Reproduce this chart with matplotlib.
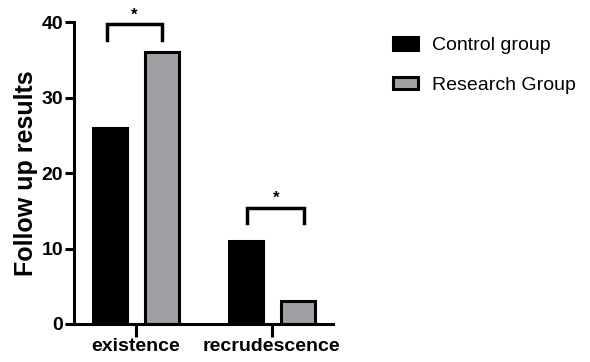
import numpy as np
import matplotlib.pyplot as plt

plt.rcParams['font.family'] = ['Liberation Sans', 'DejaVu Sans']

categories = ["existence", "recrudescence"]
control = [26, 11]
research = [36, 3]
series_names = ["Control group", "Research Group"]

fig = plt.figure(figsize=(5.9, 3.62), dpi=100)
ax = fig.add_axes([0.125, 0.105, 0.439, 0.834])

x = np.arange(len(categories))
w = 0.25
off = 0.19
ax.bar(x - off, control, w, color="black", edgecolor="black", linewidth=2.2,
       label=series_names[0])
ax.bar(x + off, research, w, color="#a0a0a4", edgecolor="black", linewidth=2.2,
       label=series_names[1])

# significance brackets
def bracket(x1, x2, ylow, yhigh):
    ax.plot([x1, x1, x2, x2], [ylow, yhigh, yhigh, ylow], color="black",
            lw=2.5, clip_on=False, solid_joinstyle="miter")
    ax.text((x1 + x2) / 2, yhigh + 0.2, "*", ha="center", va="bottom",
            fontsize=12, fontweight="bold", clip_on=False)

bracket(x[0] - off - 0.02, x[0] + off, 37.6, 39.7)
bracket(x[1] - off + 0.01, x[1] + off + 0.05, 13.4, 15.4)

ax.set_xlim(-0.456, 1.449)
ax.set_ylim(0, 40)
ax.set_yticks([0, 10, 20, 30, 40])
ax.set_xticks(x)
ax.set_xticklabels(categories, fontsize=14, fontweight="bold")
for lab in ax.get_yticklabels():
    lab.set_fontsize(14)
    lab.set_fontweight("bold")
ax.set_ylabel("Follow up results", fontsize=18, fontweight="bold", labelpad=3)

for s in ["top", "right"]:
    ax.spines[s].set_visible(False)
for s in ["left", "bottom"]:
    ax.spines[s].set_linewidth(2.2)
ax.tick_params(axis="y", width=2.2, length=6.5, pad=1)
ax.tick_params(axis="x", width=2.2, length=9, pad=1)

fig.legend(loc="upper left", bbox_to_anchor=(0.636, 0.945), frameon=False,
           fontsize=14, handlelength=1.3, handleheight=0.6, labelspacing=1.15,
           handletextpad=0.7)

fig.savefig("out.png", dpi=100)
